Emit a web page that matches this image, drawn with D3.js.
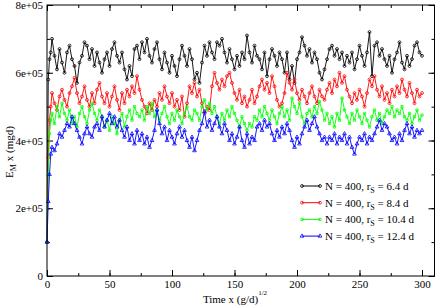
<!DOCTYPE html>
<html lang="en">
<head>
<meta charset="UTF-8">
<title>E_M vs time</title>
<script src="https://d3js.org/d3.v7.min.js"></script>
<style>
  body { margin: 0; background: #fff; }
  svg { display: block; font-family: "Liberation Serif", "Times New Roman", serif; }
  .frame { fill: none; stroke: #000; stroke-width: 1; }
  .axis path { display: none; }
  .axis line { stroke: #000; stroke-width: 1; }
  .axis text { font-size: 11px; fill: #000; font-family: "Liberation Serif", serif; }
  .series { fill: none; stroke-width: 0.9; }
</style>
</head>
<body>
<div id="chart"></div>
<script>
// time grid (g/d)^1/2
const times = [0, 1, 2, 3].concat(d3.range(4, 301, 2));

// E_M values in units of 1000 mgd
const rs64 = [100,580,640,660,700,650,610,670,630,600,660,680,640,620,570,630,650,690,680,640,670,620,660,630,600,640,660,620,670,690,650,630,660,610,580,620,590,670,680,640,690,660,700,650,630,670,690,640,610,660,630,600,650,620,590,640,680,650,620,670,640,580,600,570,630,680,650,690,660,640,690,680,700,660,630,670,640,610,650,620,660,640,710,660,630,680,650,640,610,660,590,640,670,650,620,660,640,600,660,580,620,570,640,660,705,680,650,670,630,660,640,600,580,610,640,670,680,650,670,640,660,620,650,630,660,610,640,680,650,620,660,720,590,680,690,650,670,640,620,650,600,640,660,690,630,610,650,620,640,680,690,660,650];
const rs84 = [100,350,460,500,540,510,490,530,550,520,500,540,560,585,540,510,530,560,520,500,540,510,550,570,530,510,540,500,530,560,520,490,540,510,550,530,560,540,590,550,520,500,480,510,490,520,500,540,520,560,530,510,540,500,520,490,530,470,510,560,540,570,530,550,510,480,500,490,560,600,570,550,580,560,590,600,570,540,520,550,510,530,500,520,550,510,530,560,580,550,570,540,590,560,520,500,510,540,600,570,550,580,540,520,550,530,510,540,560,530,510,550,530,520,550,570,540,580,560,600,570,590,550,530,510,540,520,550,530,500,540,580,560,590,550,530,560,520,540,510,550,530,560,540,580,550,530,570,540,510,550,530,540];
const rs104 = [100,300,420,460,480,450,500,470,510,480,460,490,450,470,440,480,500,470,450,490,510,480,460,490,470,440,460,430,470,450,420,460,480,440,470,490,460,500,480,470,490,460,500,480,510,470,490,460,480,500,470,450,480,460,490,470,450,480,500,470,460,490,480,460,500,520,490,510,480,500,470,450,480,460,490,470,500,480,460,440,470,450,430,450,440,470,460,490,470,500,480,460,490,470,450,480,500,470,490,460,525,500,480,510,470,450,480,490,470,500,480,515,490,460,480,450,470,440,480,460,525,490,470,450,480,460,490,470,450,480,460,440,470,490,460,480,450,470,490,480,500,470,490,480,500,470,460,480,450,470,490,460,475];
const rs124 = [100,220,300,360,380,370,390,420,410,430,450,440,470,450,430,410,390,420,440,420,410,440,450,430,470,440,460,480,450,470,440,460,430,410,440,400,420,390,430,400,420,390,410,380,400,430,490,450,420,440,400,430,410,390,420,440,410,430,400,380,410,370,400,430,450,485,440,460,430,450,470,440,420,450,430,400,420,390,410,440,400,380,420,390,410,400,440,450,430,460,440,450,420,400,430,410,440,420,450,430,400,380,410,390,420,440,460,430,450,470,440,420,400,410,390,410,400,420,390,410,400,420,390,410,380,360,390,410,400,420,390,410,400,420,440,460,430,450,440,420,400,410,390,420,400,430,450,420,440,410,430,420,430];

const seriesNames = ["N = 400, r", "N = 400, r", "N = 400, r", "N = 400, r"];
const seriesTails = [" = 6.4 d", " = 8.4 d", " = 10.4 d", " = 12.4 d"];
const seriesValues = [rs64, rs84, rs104, rs124];
const seriesColors = ["#000000", "#ff0000", "#00ff00", "#0000ff"];
const seriesSymbols = ["circle", "circle", "square", "triangle"];

const yTicks = [0, 2e5, 4e5, 6e5, 8e5];
const yTickLabels = ["0", "2e+05", "4e+05", "6e+05", "8e+05"];
const xTicks = [0, 50, 100, 150, 200, 250, 300];
const xTickLabels = ["0", "50", "100", "150", "200", "250", "300"];

const W = 436, H = 307;
const margin = {top: 5, right: 1.5, bottom: 31, left: 47};

const x = d3.scaleLinear().domain([0, 310]).range([margin.left, W - margin.right]);
const y = d3.scaleLinear().domain([0, 8e5]).range([H - margin.bottom, margin.top]);

const svg = d3.select("#chart").append("svg")
    .attr("width", W)
    .attr("height", H);

// axes, ticks pointing inward on all four sides
const minorY = d3.range(0, 8e5 + 1, 1e5);
const minorX = d3.range(0, 301, 25);
const x0 = x.range()[0], x1 = x.range()[1], y0 = y.range()[0], y1 = y.range()[1];

svg.append("g").attr("class", "axis").attr("transform", `translate(${x0},0)`)
    .call(d3.axisLeft(y).tickValues(minorY).tickSize(-3).tickFormat(""));
svg.append("g").attr("class", "axis").attr("transform", `translate(${x0},0)`)
    .call(d3.axisLeft(y).tickValues(yTicks).tickSize(-6).tickPadding(4)
        .tickFormat((d, i) => yTickLabels[i]));
svg.append("g").attr("class", "axis").attr("transform", `translate(${x1},0)`)
    .call(d3.axisRight(y).tickValues(minorY).tickSize(-3).tickFormat(""));
svg.append("g").attr("class", "axis").attr("transform", `translate(${x1},0)`)
    .call(d3.axisRight(y).tickValues(yTicks).tickSize(-6).tickFormat(""));

svg.append("g").attr("class", "axis").attr("transform", `translate(0,${y0})`)
    .call(d3.axisBottom(x).tickValues(minorX).tickSize(-3).tickFormat(""));
svg.append("g").attr("class", "axis").attr("transform", `translate(0,${y0})`)
    .call(d3.axisBottom(x).tickValues(xTicks).tickSize(-6).tickPadding(4)
        .tickFormat((d, i) => xTickLabels[i]));
svg.append("g").attr("class", "axis").attr("transform", `translate(0,${y1})`)
    .call(d3.axisTop(x).tickValues(minorX).tickSize(-3).tickFormat(""));
svg.append("g").attr("class", "axis").attr("transform", `translate(0,${y1})`)
    .call(d3.axisTop(x).tickValues(xTicks).tickSize(-6).tickFormat(""));

const line = d3.line().x(d => x(d.t)).y(d => y(d.v));

function symbolPath(kind) {
    if (kind === "square") return d3.symbol(d3.symbolSquare, 5)();
    if (kind === "triangle") return d3.symbol(d3.symbolTriangle, 6)();
    return d3.symbol(d3.symbolCircle, 6.5)();
}

seriesValues.forEach((vals, k) => {
    const pts = vals.map((v, i) => ({t: times[i], v: v * 1000}));
    const g = svg.append("g");
    g.append("path").datum(pts)
        .attr("class", "series")
        .attr("stroke", seriesColors[k])
        .attr("d", line);
    g.selectAll("path.mk").data(pts).join("path")
        .attr("class", "mk")
        .attr("d", symbolPath(seriesSymbols[k]))
        .attr("transform", d => `translate(${x(d.t)},${y(d.v)})`)
        .attr("fill", "none")
        .attr("stroke", seriesColors[k])
        .attr("stroke-width", 0.8);
});

// frame
svg.append("rect").attr("class", "frame")
    .attr("x", x0).attr("y", y1)
    .attr("width", x1 - x0).attr("height", y0 - y1);

// legend
const legend = svg.append("g").attr("transform", "translate(302,186)");
seriesValues.forEach((vals, k) => {
    const row = legend.append("g").attr("transform", `translate(0,${k * 16.7})`);
    row.append("line").attr("x1", 0).attr("x2", 18).attr("y1", 0).attr("y2", 0)
        .attr("stroke", seriesColors[k]).attr("stroke-width", 1);
    [0, 18].forEach(px => row.append("path")
        .attr("d", symbolPath(seriesSymbols[k]))
        .attr("transform", `translate(${px},0)`)
        .attr("fill", "none").attr("stroke", seriesColors[k]).attr("stroke-width", 0.8));
    const txt = row.append("text").attr("x", 23).attr("y", 4)
        .attr("font-size", 11).attr("fill", "#000");
    txt.append("tspan").text(seriesNames[k]);
    txt.append("tspan").attr("font-size", 8).attr("dy", 3).text("S");
    txt.append("tspan").attr("dy", -3).text(seriesTails[k]);
});

// axis titles
const yt = svg.append("text")
    .attr("transform", "translate(13,152) rotate(-90)")
    .attr("text-anchor", "middle")
    .attr("font-size", 11);
yt.append("tspan").text("E");
yt.append("tspan").attr("font-size", 8).attr("dy", 3).text("M");
yt.append("tspan").attr("dy", -3).text(" x (mgd)");

const xt = svg.append("text")
    .attr("x", 235).attr("y", 303)
    .attr("text-anchor", "middle")
    .attr("font-size", 11);
xt.append("tspan").text("Time x (g/d)");
xt.append("tspan").attr("font-size", 7).attr("dy", -8).text("1/2");
</script>
</body>
</html>
